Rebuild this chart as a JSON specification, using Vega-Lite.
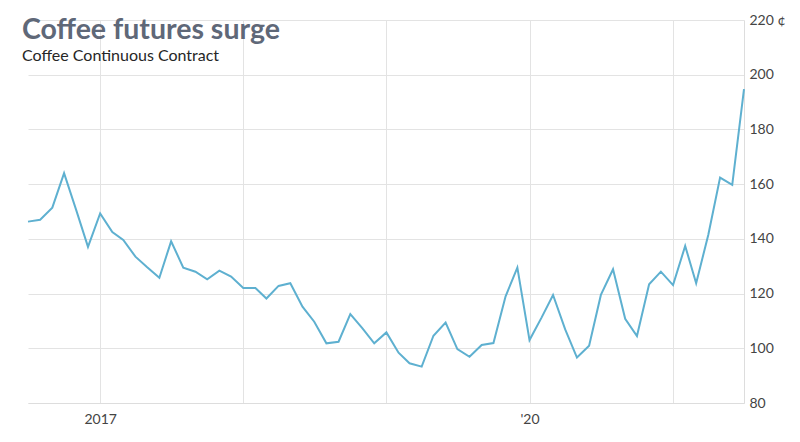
{
  "$schema": "https://vega.github.io/schema/vega-lite/v6.json",
  "width": 716,
  "height": 383,
  "autosize": {"type": "none"},
  "padding": {"left": 28, "top": 20, "right": 56, "bottom": 39},
  "background": "white",
  "title": {
    "text": "Coffee futures surge",
    "subtitle": "Coffee Continuous Contract",
    "anchor": "start",
    "frame": "group",
    "orient": "top",
    "offset": -51,
    "dx": -6,
    "font": "Lato",
    "fontSize": 28.5,
    "fontWeight": "bold",
    "color": "#5f6878",
    "subtitleFont": "Lato",
    "subtitleFontSize": 16,
    "subtitleColor": "#262626",
    "subtitlePadding": 4
  },
  "config": {
    "view": {"stroke": null},
    "axis": {"labelFont": "Lato", "labelFontSize": 14, "labelColor": "#444444", "gridColor": "#e3e3e3", "domainColor": "#dddddd", "ticks": false, "title": null}
  },
  "data": {
    "values": [
      {"date": "2016-07-01", "price": 146.3},
      {"date": "2016-08-01", "price": 147.0},
      {"date": "2016-09-01", "price": 151.4},
      {"date": "2016-10-01", "price": 164.0},
      {"date": "2016-11-01", "price": 150.5},
      {"date": "2016-12-01", "price": 137.1},
      {"date": "2017-01-01", "price": 149.3},
      {"date": "2017-02-01", "price": 142.5},
      {"date": "2017-03-01", "price": 139.6},
      {"date": "2017-04-01", "price": 133.5},
      {"date": "2017-05-01", "price": 129.6},
      {"date": "2017-06-01", "price": 125.8},
      {"date": "2017-07-01", "price": 139.1},
      {"date": "2017-08-01", "price": 129.5},
      {"date": "2017-09-01", "price": 128.0},
      {"date": "2017-10-01", "price": 125.2},
      {"date": "2017-11-01", "price": 128.4},
      {"date": "2017-12-01", "price": 126.2},
      {"date": "2018-01-01", "price": 122.0},
      {"date": "2018-02-01", "price": 122.0},
      {"date": "2018-03-01", "price": 118.2},
      {"date": "2018-04-01", "price": 122.8},
      {"date": "2018-05-01", "price": 123.8},
      {"date": "2018-06-01", "price": 115.2},
      {"date": "2018-07-01", "price": 109.7},
      {"date": "2018-08-01", "price": 101.8},
      {"date": "2018-09-01", "price": 102.4},
      {"date": "2018-10-01", "price": 112.5},
      {"date": "2018-11-01", "price": 107.3},
      {"date": "2018-12-01", "price": 101.8},
      {"date": "2019-01-01", "price": 105.8},
      {"date": "2019-02-01", "price": 98.4},
      {"date": "2019-03-01", "price": 94.5},
      {"date": "2019-04-01", "price": 93.3},
      {"date": "2019-05-01", "price": 104.6},
      {"date": "2019-06-01", "price": 109.4},
      {"date": "2019-07-01", "price": 99.7},
      {"date": "2019-08-01", "price": 96.9},
      {"date": "2019-09-01", "price": 101.2},
      {"date": "2019-10-01", "price": 101.9},
      {"date": "2019-11-01", "price": 119.0},
      {"date": "2019-12-01", "price": 129.5},
      {"date": "2020-01-01", "price": 103.0},
      {"date": "2020-02-01", "price": 111.3},
      {"date": "2020-03-01", "price": 119.5},
      {"date": "2020-04-01", "price": 106.9},
      {"date": "2020-05-01", "price": 96.6},
      {"date": "2020-06-01", "price": 100.9},
      {"date": "2020-07-01", "price": 119.5},
      {"date": "2020-08-01", "price": 128.9},
      {"date": "2020-09-01", "price": 110.8},
      {"date": "2020-10-01", "price": 104.5},
      {"date": "2020-11-01", "price": 123.4},
      {"date": "2020-12-01", "price": 128.0},
      {"date": "2021-01-01", "price": 123.1},
      {"date": "2021-02-01", "price": 137.4},
      {"date": "2021-03-01", "price": 123.8},
      {"date": "2021-04-01", "price": 141.5},
      {"date": "2021-05-01", "price": 162.4},
      {"date": "2021-06-01", "price": 159.7},
      {"date": "2021-07-01", "price": 194.7}
    ]
  },
  "mark": {"type": "line", "color": "#5eb0d0", "strokeWidth": 2, "clip": false},
  "encoding": {
    "x": {
      "field": "date",
      "type": "temporal",
      "scale": {"nice": false},
      "axis": {
        "tickCount": {"interval": "year", "step": 1},
        "grid": true,
        "labelPadding": 9,
        "labelExpr": "year(datum.value) == 2017 ? '2017' : (year(datum.value) == 2020 ? \"'20\" : '')",
        "labelFlush": false,
        "labelOverlap": false
      }
    },
    "y": {
      "field": "price",
      "type": "quantitative",
      "scale": {"domain": [80, 220], "nice": false, "zero": false},
      "axis": {
        "orient": "right",
        "values": [80, 100, 120, 140, 160, 180, 200, 220],
        "grid": true,
        "labelPadding": 5,
        "labelExpr": "datum.value == 220 ? '220 ¢' : datum.label",
        "labelFlush": false
      }
    }
  }
}
